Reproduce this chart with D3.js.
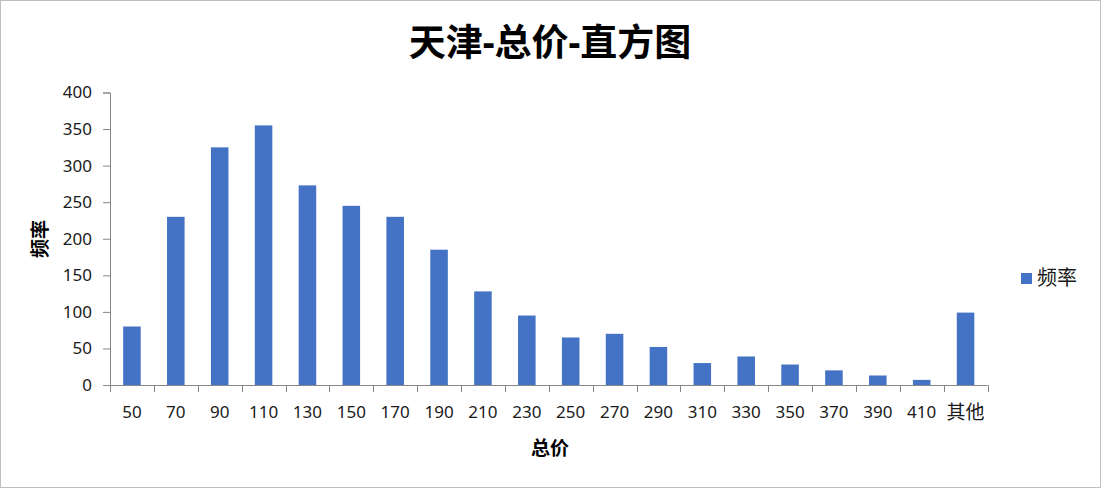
<!DOCTYPE html>
<html>
<head>
<meta charset="utf-8">
<script src="https://cdn.jsdelivr.net/npm/d3@7"></script>
<style>
  body { margin: 0; background: #fff; }
  svg text { font-family: "Noto Sans", "Noto Sans CJK SC", sans-serif; }
</style>
</head>
<body>
<svg id="chart" width="1101" height="488"></svg>
<script>
// bins of the histogram and their counts
var categories = ["50", "70", "90", "110", "130", "150", "170", "190", "210", "230",
                  "250", "270", "290", "310", "330", "350", "370", "390", "410", "其他"]
var counts = [80, 230, 325, 355, 273, 245, 230, 185, 128, 95,
              65, 70, 52, 30, 39, 28, 20, 13, 7, 99]
var yTicks = [0, 50, 100, 150, 200, 250, 300, 350, 400]

var title = "天津-总价-直方图"
var xTitle = "总价"
var yTitle = "频率"
var seriesName = "频率"

const W = 1101, H = 488
const plot = {left: 110, right: 987.5, top: 92.5, bottom: 385}
const barColor = "#4472C4"
const axisColor = "#868686"
const textColor = "#1a1a1a"

const svg = d3.select("#chart")

// outer border
svg.append("rect")
  .attr("x", 0.5).attr("y", 0.5)
  .attr("width", W - 1).attr("height", H - 1)
  .attr("fill", "#fff")
  .attr("stroke", "#bfbfbf")

const x = d3.scaleBand()
  .domain(categories)
  .range([plot.left, plot.right])
  .paddingInner(0).paddingOuter(0)

const y = d3.scaleLinear()
  .domain([0, 400])
  .range([plot.bottom, plot.top])

const data = categories.map((c, i) => ({cat: c, value: counts[i]}))

// bars, gap width like excel (150%)
const barW = x.bandwidth() / 2.5
svg.append("g")
  .selectAll("rect")
  .data(data)
  .join("rect")
  .attr("x", d => x(d.cat) + (x.bandwidth() - barW) / 2)
  .attr("y", d => y(d.value))
  .attr("width", barW)
  .attr("height", d => y(0) - y(d.value))
  .attr("fill", barColor)

// y axis
const yAxis = svg.append("g")
  .attr("transform", `translate(${plot.left},0)`)
  .call(d3.axisLeft(y).tickValues(yTicks).tickSize(7).tickPadding(11))
yAxis.select(".domain").attr("stroke", axisColor)
yAxis.selectAll(".tick line").attr("stroke", axisColor)
yAxis.selectAll(".tick text")
  .attr("fill", textColor)
  .style("font-size", "17px")

// x axis: labels centered, tick marks on category boundaries
const xAxis = svg.append("g")
  .attr("transform", `translate(0,${plot.bottom})`)
  .call(d3.axisBottom(x).tickSize(0).tickPadding(21))
xAxis.select(".domain").remove()
xAxis.selectAll(".tick text")
  .attr("fill", textColor)
  .style("font-size", d => /^\d+$/.test(d) ? "17px" : "19px")

svg.append("line")
  .attr("x1", plot.left).attr("x2", plot.right)
  .attr("y1", plot.bottom + 0.5).attr("y2", plot.bottom + 0.5)
  .attr("stroke", axisColor)

const bounds = categories.map(c => x(c)).concat([x(categories[categories.length - 1]) + x.step()])
svg.append("g")
  .selectAll("line")
  .data(bounds)
  .join("line")
  .attr("x1", d => Math.round(d) + 0.5).attr("x2", d => Math.round(d) + 0.5)
  .attr("y1", plot.bottom).attr("y2", plot.bottom + 7)
  .attr("stroke", axisColor)

// titles
svg.append("text")
  .attr("x", 550).attr("y", 56)
  .attr("text-anchor", "middle")
  .style("font-size", "37px")
  .style("font-weight", "bold")
  .attr("fill", "#000")
  .text(title)

svg.append("text")
  .attr("x", 550).attr("y", 455)
  .attr("text-anchor", "middle")
  .style("font-size", "19px")
  .style("font-weight", "bold")
  .attr("fill", "#000")
  .text(xTitle)

svg.append("text")
  .attr("transform", "translate(47,239) rotate(-90)")
  .attr("text-anchor", "middle")
  .style("font-size", "19px")
  .style("font-weight", "bold")
  .attr("fill", "#000")
  .text(yTitle)

// legend
const legend = svg.append("g").attr("transform", "translate(1021,273)")
legend.append("rect")
  .attr("width", 11).attr("height", 11)
  .attr("fill", barColor)
legend.append("text")
  .attr("x", 16).attr("y", 12)
  .style("font-size", "20px")
  .attr("fill", textColor)
  .text(seriesName)
</script>
</body>
</html>
